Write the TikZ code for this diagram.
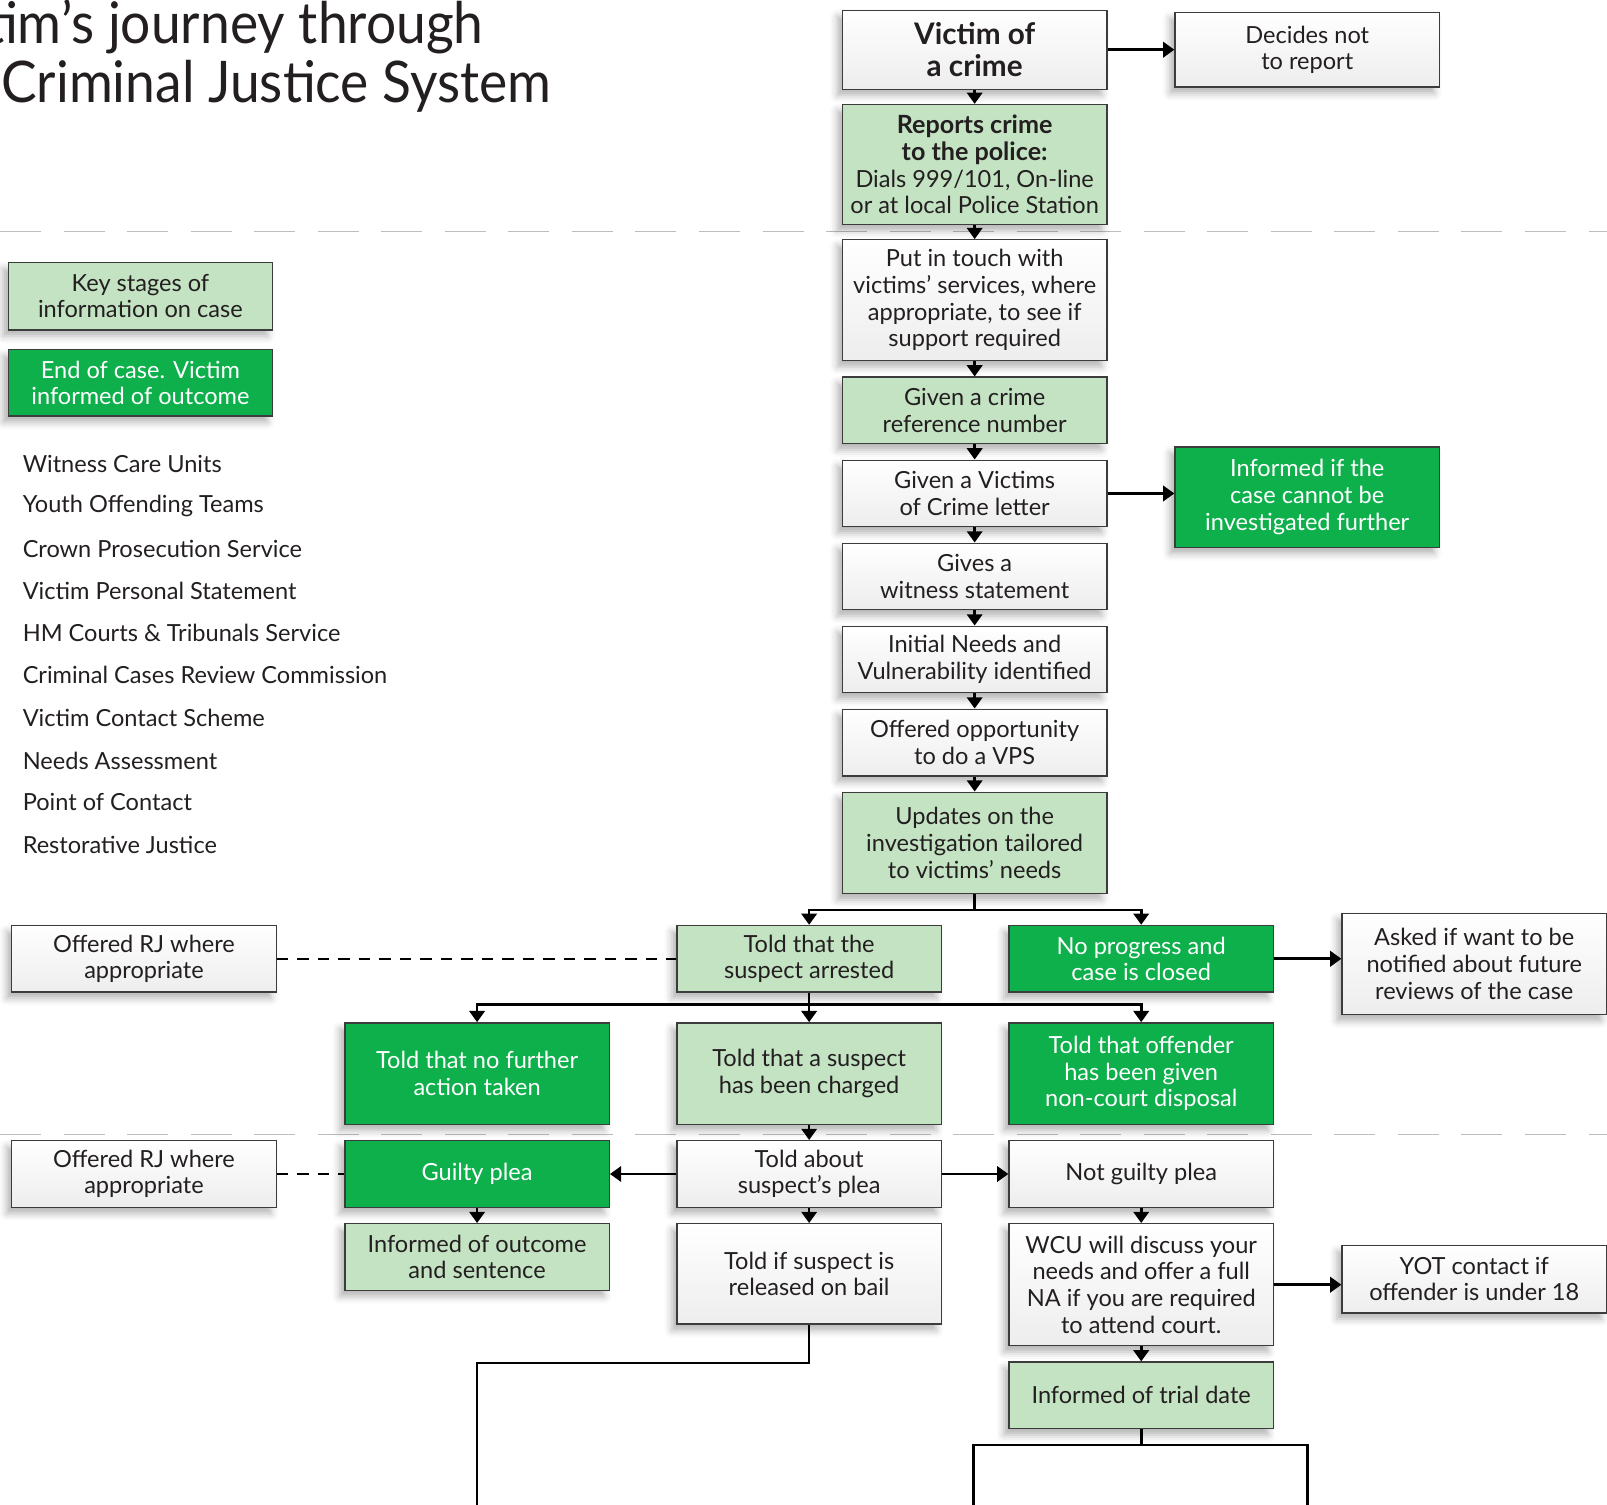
\documentclass[tikz,border=0pt]{standalone}
\usepackage{fontspec}
\setmainfont{Lato}
\newfontfamily\titlefam[FakeStretch=0.93]{Lato}
\usetikzlibrary{arrows.meta,shadows.blur}
\definecolor{lgreen}{HTML}{C4E3C3}
\definecolor{dgreen}{HTML}{0DB04B}
\definecolor{bord}{HTML}{3C3C3C}
\definecolor{txt}{HTML}{231F20}
\definecolor{dashg}{HTML}{BDBDBD}
\newcommand\bodyfont{\fontsize{23}{26}\selectfont}
\newcommand\titlefont{\titlefam\fontsize{56}{60}\selectfont}
\newcommand\bigb[1]{{\fontsize{24.5}{26}\selectfont\bfseries #1}}
\tikzset{
 base/.style={draw=bord, line width=1.3pt, minimum width=258pt, inner sep=0pt, align=center, text=txt, font=\bodyfont,
   blur shadow={shadow xshift=-5pt, shadow yshift=-6pt, shadow blur radius=7pt, shadow opacity=30}},
 wbox/.style={base, top color=white, bottom color=black!7},
 lbox/.style={base, fill=lgreen},
 gbox/.style={base, fill=dgreen, text=white},
 conn/.style={line width=2.6pt, draw=black},
 arr/.style={conn, -{Triangle[width=15pt,length=11pt]}},
 rjline/.style={line width=2.4pt, dash pattern=on 11pt off 9pt},
 sepline/.style={line width=1.6pt, draw=dashg, dash pattern=on 40pt off 22pt},
 item/.style={anchor=west, inner sep=0pt, font=\bodyfont, text=txt},
}
\begin{document}
\begin{tikzpicture}[x=1pt,y=-1pt]
\useasboundingbox (0,0) rectangle (1568,1468);
\clip (0,0) rectangle (1568,1468);
% title
\node[anchor=base east, inner sep=0pt, font=\titlefont, text=txt] (ttl1) at (472,42) {Victim’s journey through};
\node[anchor=base west, inner sep=0pt, font=\titlefont, text=txt] (ttl2) at (1,100) {Criminal Justice System};
% separators
\draw[sepline] (0,226) -- (1568,226);
\draw[sepline] (0,1107) -- (1568,1107);
% legend
\node[lbox, minimum height=66pt] (key1) at (137,289) {Key stages of\\information on case};
\node[gbox, minimum height=65pt] (key2) at (137,373.5) {End of case. Victim\\informed of outcome};
\node[item] (l1) at (22,453) {Witness Care Units};
\node[item] (l2) at (22,494) {Youth Offending Teams};
\node[item] (l3) at (22,536) {Crown Prosecution Service};
\node[item] (l4) at (22,577) {Victim Personal Statement};
\node[item] (l5) at (22,618) {HM Courts \& Tribunals Service};
\node[item] (l6) at (22,659) {Criminal Cases Review Commission};
\node[item] (l7) at (22,700) {Victim Contact Scheme};
\node[item] (l8) at (22,742) {Needs Assessment};
\node[item] (l9) at (22,783) {Point of Contact};
\node[item] (l10) at (22,824) {Restorative Justice};
% main column
\node[wbox, minimum height=77pt, font=\fontsize{29}{31}\selectfont\bfseries] (victim) at (951,48.5) {Victim of\\a crime};
\node[wbox, minimum height=73pt] (decides) at (1275.5,48.5) {Decides not\\to report};
\node[lbox, minimum height=117pt] (reports) at (951,160.5) {\bigb{Reports crime}\\\bigb{to the police:}\\Dials 999/101, On-line\\or at local Police Station};
\node[wbox, minimum height=118pt] (touch) at (951,293) {Put in touch with\\victims’ services, where\\appropriate, to see if\\support required};
\node[lbox, minimum height=65pt] (crimeref) at (951,400.5) {Given a crime\\reference number};
\node[wbox, minimum height=65pt] (letter) at (951,481.5) {Given a Victims\\of Crime letter};
\node[gbox, minimum height=98pt] (notinv) at (1275.5,485) {Informed if the\\case cannot be\\investigated further};
\node[wbox, minimum height=65pt] (witness) at (951,562.5) {Gives a\\witness statement};
\node[wbox, minimum height=65pt] (needs) at (951,643.5) {Initial Needs and\\Vulnerability identified};
\node[wbox, minimum height=65pt] (vps) at (951,724.5) {Offered opportunity\\to do a VPS};
\node[lbox, minimum height=99pt] (updates) at (951,822.5) {Updates on the\\investigation tailored\\to victims’ needs};
\node[lbox, minimum height=65pt] (arrested) at (789.5,935.5) {Told that the\\suspect arrested};
\node[gbox, minimum height=65pt] (noprog) at (1113.5,935.5) {No progress and\\case is closed};
\node[wbox, minimum height=99pt] (asked) at (1438.5,940.5) {Asked if want to be\\notified about future\\reviews of the case};
\node[wbox, minimum height=65pt] (rj1) at (140.5,935.5) {Offered RJ where\\appropriate};
\node[gbox, minimum height=99pt] (nfa) at (465.5,1047.5) {Told that no further\\action taken};
\node[lbox, minimum height=99pt] (charged) at (789.5,1047.5) {Told that a suspect\\has been charged};
\node[gbox, minimum height=99pt] (noncourt) at (1113.5,1047.5) {Told that offender\\has been given\\non-court disposal};
\node[wbox, minimum height=65pt] (rj2) at (140.5,1145.5) {Offered RJ where\\appropriate};
\node[gbox, minimum height=65pt] (guilty) at (465.5,1145.5) {Guilty plea};
\node[wbox, minimum height=65pt] (plea) at (789.5,1145.5) {Told about\\suspect’s plea};
\node[wbox, minimum height=65pt] (notguilty) at (1113.5,1145.5) {Not guilty plea};
\node[lbox, minimum height=65pt] (outcome) at (465.5,1226.5) {Informed of outcome\\and sentence};
\node[wbox, minimum height=98pt] (bail) at (789.5,1243) {Told if suspect is\\released on bail};
\node[wbox, minimum height=119pt] (wcu) at (1113.5,1253.5) {WCU will discuss your\\needs and offer a full\\NA if you are required\\to attend court.};
\node[wbox, minimum height=66pt] (yot) at (1438.5,1248) {YOT contact if\\offender is under 18};
\node[lbox, minimum height=65pt] (trial) at (1113.5,1361.5) {Informed of trial date};
% connectors
\draw[arr] (victim) -- (decides);
\draw[arr] (victim) -- (reports);
\draw[arr] (reports) -- (touch);
\draw[arr] (touch) -- (crimeref);
\draw[arr] (crimeref) -- (letter);
\draw[arr] (letter.east) -- (letter.east -| notinv.west);
\draw[arr] (letter) -- (witness);
\draw[arr] (witness) -- (needs);
\draw[arr] (needs) -- (vps);
\draw[arr] (vps) -- (updates);
\coordinate (b1) at (951,888);
\draw[conn] (updates.south) -- (b1);
\draw[arr] (b1) -| (arrested.north);
\draw[arr] (b1) -| (noprog.north);
\draw[arr] (noprog.east) -- (noprog.east -| asked.west);
\draw[rjline] (rj1.east) -- (arrested.west);
\coordinate (b2) at (789.5,980);
\draw[conn] (arrested.south) -- (b2);
\draw[arr] (b2) -| (nfa.north);
\draw[arr] (b2) -- (charged.north);
\draw[arr] (b2) -| (noncourt.north);
\draw[arr] (charged) -- (plea);
\draw[arr] (plea) -- (guilty);
\draw[arr] (plea) -- (notguilty);
\draw[rjline] (rj2.east) -- (guilty.west);
\draw[arr] (guilty) -- (outcome);
\draw[arr] (plea) -- (bail);
\draw[arr] (notguilty) -- (wcu);
\draw[arr] (wcu.east) -- (wcu.east -| yot.west);
\draw[arr] (wcu) -- (trial);
\coordinate (b3) at (789.5,1330);
\coordinate (e1) at (465.5,1480);
\draw[conn] (bail.south) -- (b3) -| (e1);
\coordinate (b4) at (1113.5,1410);
\coordinate (e2) at (950,1480);
\coordinate (e3) at (1276,1480);
\draw[conn] (trial.south) -- (b4);
\draw[conn] (e2) |- (b4) -| (e3);
\end{tikzpicture}
\end{document}
